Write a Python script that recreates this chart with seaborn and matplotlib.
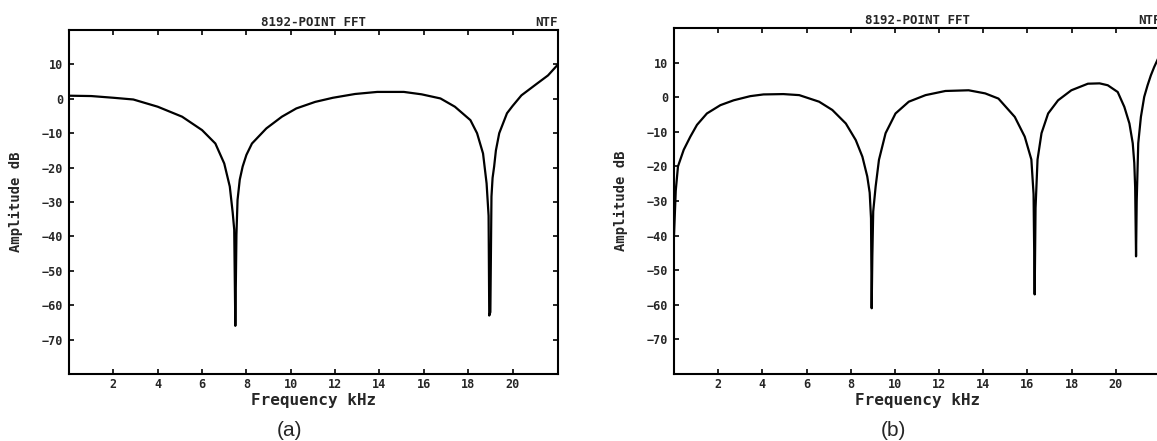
"""NTF spectra of two noise-shaping loops, 8192-point FFT, panels (a) and (b)."""
import matplotlib
matplotlib.use("Agg")
import matplotlib.pyplot as plt
import seaborn as sns

# panel (a): NTF (kHz, dB)
FREQ_A = [0.0, 1.0, 2.0, 2.9, 4.0, 5.1, 6.0, 6.6, 7.0, 7.25, 7.38, 7.45, 7.5,
          7.55, 7.6, 7.7, 7.83, 8.0, 8.25, 8.9, 9.6, 10.25, 11.1, 11.9, 12.9,
          13.9, 15.1, 15.9, 16.75, 17.4, 18.1, 18.4, 18.67, 18.83, 18.92,
          18.95, 19.0, 19.05, 19.1, 19.17, 19.25, 19.4, 19.75, 20.0, 20.4,
          21.1, 21.6, 22.05]
NTF_A = [0.9, 0.8, 0.3, -0.2, -2.3, -5.2, -9.1, -13.0, -18.8, -25.5, -33.0,
         -38.0, -66.0, -39.5, -29.4, -23.5, -19.7, -16.3, -13.0, -8.6, -5.2,
         -2.8, -0.9, 0.3, 1.4, 2.0, 2.0, 1.3, 0.1, -2.3, -6.2, -10.0, -15.9,
         -24.6, -34.0, -63.0, -62.0, -28.4, -23.0, -19.7, -15.0, -10.0, -4.2,
         -2.1, 1.0, 4.4, 6.8, 10.0]

# panel (b)
FREQ_B = [0.0, 0.08, 0.18, 0.44, 0.74, 1.04, 1.49, 2.1, 2.7, 3.45, 4.05, 4.95,
          5.67, 6.57, 7.17, 7.78, 8.23, 8.53, 8.75, 8.86, 8.92, 8.95, 8.98,
          9.02, 9.13, 9.28, 9.58, 10.03, 10.63, 11.39, 12.29, 13.34, 14.09,
          14.69, 15.43, 15.88, 16.18, 16.28, 16.33, 16.37, 16.46, 16.64, 16.94,
          17.39, 17.99, 18.74, 19.27, 19.64, 20.09, 20.39, 20.62, 20.77, 20.84,
          20.88, 20.92, 20.95, 21.02, 21.14, 21.29, 21.44, 21.59, 21.74, 22.05]
NTF_B = [-40.0, -27.0, -20.0, -15.2, -11.4, -8.0, -4.7, -2.3, -0.9, 0.3, 0.8,
         0.9, 0.6, -1.3, -3.7, -7.6, -12.4, -17.2, -22.9, -27.6, -35.0, -61.0,
         -46.0, -33.0, -25.8, -18.1, -10.4, -4.7, -1.3, 0.6, 1.8, 2.0, 1.1,
         -0.4, -5.7, -11.4, -18.0, -28.0, -57.0, -32.0, -18.0, -10.4, -4.7,
         -0.9, 2.0, 3.9, 4.0, 3.45, 1.5, -2.8, -7.6, -13.3, -19.0, -26.0, -46.0,
         -30.0, -13.3, -5.7, 0.1, 3.4, 6.3, 8.7, 13.0]

X_TICKS = [2, 4, 6, 8, 10, 12, 14, 16, 18, 20]
Y_TICKS = [-70, -60, -50, -40, -30, -20, -10, 0, 10]
TITLE = "8192-POINT FFT"
TAG = "NTF"
PANELS = ["(a)", "(b)"]

MONO = ["DejaVu Sans Mono"]


def draw_panel(fig, rect, freq, ntf, panel, label_x, right_ticks=True):
    ax = fig.add_axes(rect)
    sns.lineplot(x=freq, y=ntf, ax=ax, color="black", linewidth=1.6,
                 estimator=None, sort=False)
    ax.set_xlim(0, 22.05)
    ax.set_ylim(-80, 20)
    ax.set_xticks(X_TICKS)
    ax.set_yticks(Y_TICKS)
    ax.tick_params(direction="in", top=True, right=right_ticks, length=3.6,
                   width=1.4, labelsize=8.5, pad=4)
    ax.tick_params(axis="x", pad=3)
    for lbl in ax.get_xticklabels() + ax.get_yticklabels():
        lbl.set_family(MONO)
        lbl.set_weight("bold")
    for sp in ax.spines.values():
        sp.set_visible(True)
        sp.set_linewidth(1.5)
        sp.set_color("black")
    ax.set_xlabel("Frequency kHz", family=MONO, weight="bold", fontsize=11.5)
    ax.set_ylabel("Amplitude dB", family=MONO, weight="bold", fontsize=10)
    ax.xaxis.set_label_coords(0.5, -0.055)
    ax.yaxis.set_label_coords(-0.095, 0.5)
    ax.set_title(TITLE, family=MONO, weight="bold", fontsize=9, pad=3)
    ax.set_title(TAG, family=MONO, weight="bold", fontsize=9, pad=3, loc="right")
    fig.text(label_x, 10 / 441, panel, family=["Liberation Sans"], fontsize=15,
             ha="center", va="center")
    return ax


def main():
    sns.set_style("ticks")
    plt.rcParams["font.family"] = ["DejaVu Sans Mono"]
    W, H = 1157, 441
    fig = plt.figure(figsize=(W / 100, H / 100), dpi=100)
    draw_panel(fig, [69 / W, 67 / H, 489 / W, 344 / H], FREQ_A, NTF_A,
               PANELS[0], 290 / W)
    # right edge of panel (b) falls just outside the picture, as in the scan
    draw_panel(fig, [674 / W, 67 / H, 487 / W, 346 / H], FREQ_B, NTF_B,
               PANELS[1], 893 / W, right_ticks=False)
    fig.savefig("out.png", dpi=100)
    plt.close(fig)


if __name__ == "__main__":
    main()
